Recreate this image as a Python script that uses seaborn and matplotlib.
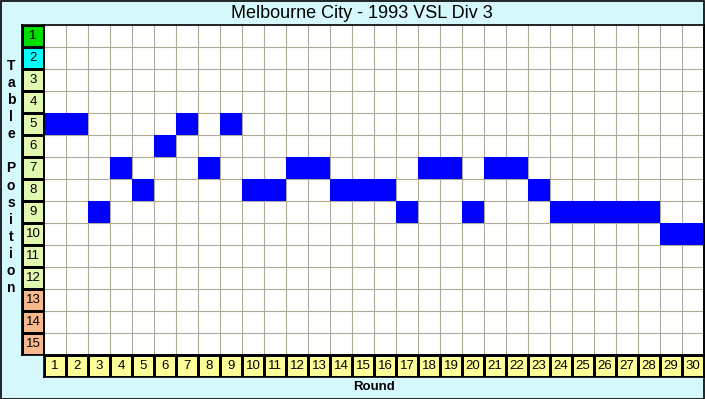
import numpy as np
import pandas as pd
import seaborn as sns
import matplotlib.pyplot as plt
from matplotlib.colors import ListedColormap
from matplotlib.patches import Rectangle

# table position after each round
rounds = list(range(1, 31))
positions = [5, 5, 9, 7, 8, 6, 5, 7, 5, 8, 8, 7, 7, 8, 8,
             8, 9, 7, 7, 9, 7, 7, 8, 9, 9, 9, 9, 9, 10, 10]
table_places = list(range(1, 16))
# colour band of each table place: 0 champion, 1 runner-up, 2 mid, 3 relegation
place_band = [0, 1, 2, 2, 2, 2, 2, 2, 2, 2, 2, 2, 3, 3, 3]

title = 'Melbourne City - 1993 VSL Div 3'
band_colors = ['#00dd00', '#00ffff', '#e2f7b0', '#f6b88c']

grid = pd.DataFrame(0, index=table_places, columns=rounds)
for r, p in zip(rounds, positions):
    grid.loc[p, r] = 1

plt.rcParams['font.family'] = ['Liberation Sans', 'DejaVu Sans']
fig = plt.figure(figsize=(7.05, 3.99), dpi=100)
fig.patch.set_facecolor('#d4f8fc')
W, H = 705, 399


def box(x0, y0, x1, y1):
    return [x0 / W, 1 - y1 / H, (x1 - x0) / W, (y1 - y0) / H]


# main grid: gray lines underneath, blue cells on top
ax = fig.add_axes(box(44, 25, 704, 355))
ax.set_facecolor('white')
sns.heatmap(grid, ax=ax, mask=grid == 0, cmap=ListedColormap(['#0000ff']), cbar=False,
            xticklabels=False, yticklabels=False)
ax.set_xticks(np.arange(1, len(rounds)), minor=True)
ax.set_yticks(np.arange(1, len(table_places)), minor=True)
ax.set_axisbelow(True)
ax.grid(which='minor', color='#b0aa9a', linewidth=0.8)
ax.tick_params(which='both', length=0)
ax.set_xlabel('')
ax.set_ylabel('')
for s in ax.spines.values():
    s.set_visible(True)
    s.set_color('black')
    s.set_linewidth(1.2)

# position labels column
axl = fig.add_axes(box(22, 25, 44, 355))
sns.heatmap(pd.DataFrame({'band': place_band}, index=table_places), ax=axl,
            cmap=ListedColormap(band_colors), vmin=-0.5, vmax=3.5, cbar=False,
            linewidths=0.8, linecolor='black', xticklabels=False, yticklabels=False)
for i, p in enumerate(table_places):
    axl.text(0.5, i + 0.5, str(p), ha='center', va='center', fontsize=9.5)
axl.set_xlabel('')
axl.set_ylabel('')
for s in axl.spines.values():
    s.set_visible(True)
    s.set_linewidth(1.2)

# round labels row
axr = fig.add_axes(box(44, 355, 704, 377))
sns.heatmap(pd.DataFrame([rounds], columns=rounds), ax=axr,
            cmap=ListedColormap(['#ffff99']), cbar=False,
            linewidths=0.8, linecolor='black', xticklabels=False, yticklabels=False)
for j, r in enumerate(rounds):
    axr.text(j + 0.5, 0.5, str(r), ha='center', va='center', fontsize=9.5)
axr.set_xlabel('')
axr.set_ylabel('')
for s in axr.spines.values():
    s.set_visible(True)
    s.set_linewidth(1.2)

fig.text(362 / W, 1 - 13 / H, title, ha='center', va='center', fontsize=13)
fig.text(374 / W, 1 - 387 / H, 'Round', ha='center', va='center',
         fontsize=9.5, fontweight='bold')
fig.text(11 / W, 1 - 177 / H, '\n'.join('Table Position'), ha='center', va='center',
         fontsize=10, fontweight='bold', linespacing=1.28)

fig.add_artist(Rectangle((0.5 / W, 0.5 / H), 1 - 1.5 / W, 1 - 1.5 / H,
                         transform=fig.transFigure, fill=False,
                         edgecolor='black', linewidth=1.2))

plt.savefig('out.png', dpi=100, facecolor=fig.get_facecolor())
